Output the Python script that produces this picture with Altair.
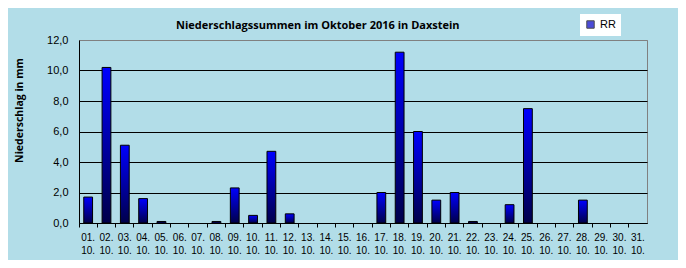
import altair as alt
import pandas as pd

days = ["01. 10.", "02. 10.", "03. 10.", "04. 10.", "05. 10.", "06. 10.", "07. 10.",
        "08. 10.", "09. 10.", "10. 10.", "11. 10.", "12. 10.", "13. 10.", "14. 10.",
        "15. 10.", "16. 10.", "17. 10.", "18. 10.", "19. 10.", "20. 10.", "21. 10.",
        "22. 10.", "23. 10.", "24. 10.", "25. 10.", "26. 10.", "27. 10.", "28. 10.",
        "29. 10.", "30. 10.", "31. 10."]
rr = [1.7, 10.2, 5.1, 1.6, 0.1, 0.0, 0.0, 0.1, 2.3, 0.5, 4.7, 0.6, 0.0, 0.0, 0.0,
      0.0, 2.0, 11.2, 6.0, 1.5, 2.0, 0.1, 0.0, 1.2, 7.5, 0.0, 0.0, 1.5, 0.0, 0.0, 0.0]
y_ticks = [0, 2, 4, 6, 8, 10, 12]

df = pd.DataFrame({"tag": days, "rr": rr, "series": "RR"})

grad = alt.Gradient(
    gradient="linear", x1=0, y1=0, x2=0, y2=1,
    stops=[alt.GradientStop(color="#0000ff", offset=0),
           alt.GradientStop(color="#00004a", offset=1)],
)

font = "Liberation Sans"

x_enc = alt.X(
    "tag:N", sort=None,
    scale=alt.Scale(domain=days, paddingInner=0, paddingOuter=0),
    axis=alt.Axis(title=None, labelAngle=0, labelExpr="split(datum.label, ' ')",
                  labelFont=font, labelFontSize=10, labelColor="black",
                  labelPadding=5, labelLineHeight=13,
                  domainColor="black", tickColor="black", tickSize=4,
                  bandPosition=0, grid=False),
)
y_enc = alt.Y(
    "rr:Q",
    scale=alt.Scale(domain=[0, 12], nice=False),
    axis=alt.Axis(title="Niederschlag in mm", values=y_ticks,
                  labelExpr="replace(format(datum.value, '.1f'), '.', ',')",
                  labelFont=font, labelFontSize=11, labelColor="black",
                  labelPadding=11, ticks=False,
                  domainColor="black",
                  grid=True,
                  gridColor={"condition": {"test": "datum.value === 12", "value": "#808080"},
                             "value": "black"},
                  gridOpacity=1, gridWidth=1,
                  titleFont="Open Sans", titleFontSize=10.5, titleFontWeight="bold",
                  titleColor="black", titleX=-60, titleY=70, titleAngle=270,
                  titleAlign="center", titleBaseline="middle"),
)

bars = alt.Chart(df).transform_filter("datum.rr > 0").mark_bar(
    fill=grad, stroke="black", strokeWidth=1, width={"band": 0.48}
).encode(x=x_enc, y=y_enc)

legend_layer = alt.Chart(df).transform_filter("datum.rr > 100").mark_square(
    filled=True
).encode(
    color=alt.Color("series:N", scale=alt.Scale(domain=["RR"], range=["#0000c8"]),
                    legend=alt.Legend(title=None, orient="none", legendX=501, legendY=-26,
                                      fillColor="white", padding=5,
                                      symbolType="square", symbolSize=55,
                                      symbolStrokeColor="black", symbolStrokeWidth=1,
                                      labelFont=font, labelFontSize=11, labelColor="black"))
)

chart = alt.layer(bars, legend_layer).properties(
    width=568, height=183,
    autosize=alt.AutoSizeParams(type="none"),
    padding={"left": 71, "top": 32, "right": 31, "bottom": 37},
    background="#b2dde8",
    title=alt.TitleParams(
        text="Niederschlagssummen im Oktober 2016 in Daxstein",
        font="Open Sans", fontSize=11, fontWeight="bold", color="black",
        anchor="start", frame="group", dx=97, dy=25, offset=8,
    ),
).configure_view(fill="white", stroke="#808080", strokeWidth=1)

chart.save("out.html", embed_options={"renderer": "svg", "actions": False})
